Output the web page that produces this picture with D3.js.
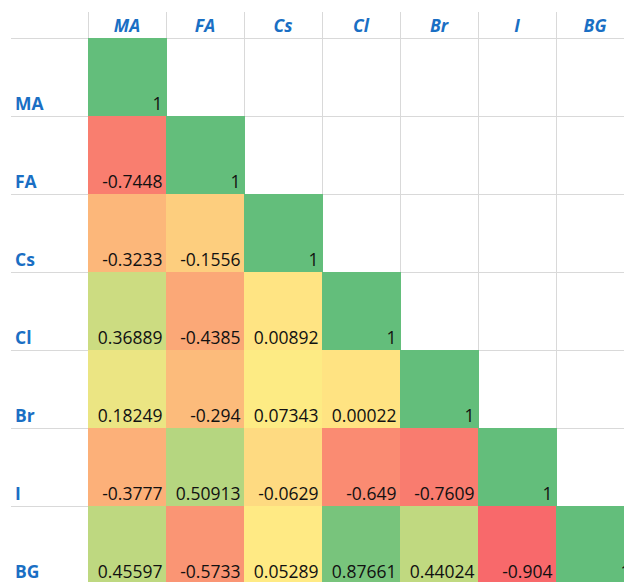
<!DOCTYPE html>
<html>
<head>
<meta charset="utf-8">
<script src="https://cdn.jsdelivr.net/npm/d3@7"></script>
<style>
  html, body { margin: 0; padding: 0; background: #fff; overflow: hidden; }
  svg { display: block; }
</style>
</head>
<body>
<svg id="chart" width="624" height="582"></svg>
<script>
// ---- data (lower triangle of the correlation matrix) ----
const categories = ["MA", "FA", "Cs", "Cl", "Br", "I", "BG"];
const rowMA = [1];
const rowFA = [-0.7448, 1];
const rowCs = [-0.3233, -0.1556, 1];
const rowCl = [0.36889, -0.4385, 0.00892, 1];
const rowBr = [0.18249, -0.294, 0.07343, 0.00022, 1];
const rowI  = [-0.3777, 0.50913, -0.0629, -0.649, -0.7609, 1];
const rowBG = [0.45597, -0.5733, 0.05289, 0.87661, 0.44024, -0.904, 1];
const rows = [rowMA, rowFA, rowCs, rowCl, rowBr, rowI, rowBG];

(function () {
const cells = [];
rows.forEach((r, i) => r.forEach((v, j) => cells.push({ row: categories[i], col: categories[j], value: v })));

const svg = d3.select("#chart");
const W = 624, H = 582;
const colW = 78;
const gLeft = 88, gTop = 38, headerTop = 12, labelLeft = 11;

const x = d3.scaleBand().domain(categories).range([gLeft, gLeft + colW * categories.length]).padding(0);
const y = d3.scaleBand().domain(categories).range([gTop, gTop + colW * categories.length]).padding(0);

// Excel-like 3-colour scale: min red, 50th percentile yellow, max green
const allVals = cells.map(d => d.value);
const sorted = allVals.slice().sort(d3.ascending);
const color = d3.scaleLinear()
  .domain([d3.min(allVals), d3.quantile(sorted, 0.5), d3.max(allVals)])
  .range(["#F8696B", "#FFEB84", "#63BE7B"])
  .interpolate(d3.interpolateRgb);

const grid = "#D9D9D9";
const hLines = d3.range(categories.length + 1).map(i => gTop + i * colW);
svg.append("g").selectAll("line").data(hLines).join("line")
  .attr("x1", labelLeft).attr("x2", W)
  .attr("y1", d => d + 0.5).attr("y2", d => d + 0.5)
  .attr("stroke", grid).attr("stroke-width", 1);
const vLines = d3.range(categories.length + 1).map(i => gLeft + i * colW);
svg.append("g").selectAll("line").data(vLines).join("line")
  .attr("x1", d => d + 0.5).attr("x2", d => d + 0.5)
  .attr("y1", headerTop).attr("y2", H)
  .attr("stroke", grid).attr("stroke-width", 1);

svg.append("g").selectAll("rect").data(cells).join("rect")
  .attr("x", d => x(d.col))
  .attr("y", d => y(d.row))
  .attr("width", x.bandwidth() + 1)
  .attr("height", y.bandwidth() + 1)
  .attr("fill", d => color(d.value));

svg.append("g").selectAll("text").data(cells).join("text")
  .attr("x", d => x(d.col) + x.bandwidth() - 3.5)
  .attr("y", d => y(d.row) + y.bandwidth() - 6.5)
  .attr("text-anchor", "end")
  .attr("font-family", "'Open Sans', sans-serif")
  .attr("font-size", 17.5)
  .attr("fill", "#111")
  .text(d => String(d.value));

const blue = "#1A6FC4";
svg.append("g").selectAll("text").data(categories).join("text")
  .attr("x", d => x(d) + x.bandwidth() / 2)
  .attr("y", 32)
  .attr("text-anchor", "middle")
  .attr("font-family", "'Open Sans', sans-serif")
  .attr("font-weight", "bold")
  .attr("font-style", "italic")
  .attr("font-size", 17.5)
  .attr("fill", blue)
  .text(d => d);

svg.append("g").selectAll("text").data(categories).join("text")
  .attr("x", 15)
  .attr("y", d => y(d) + y.bandwidth() - 6.5)
  .attr("text-anchor", "start")
  .attr("font-family", "'Open Sans', sans-serif")
  .attr("font-weight", "bold")
  .attr("font-size", 17.5)
  .attr("fill", blue)
  .text(d => d);
})();
</script>
</body>
</html>
